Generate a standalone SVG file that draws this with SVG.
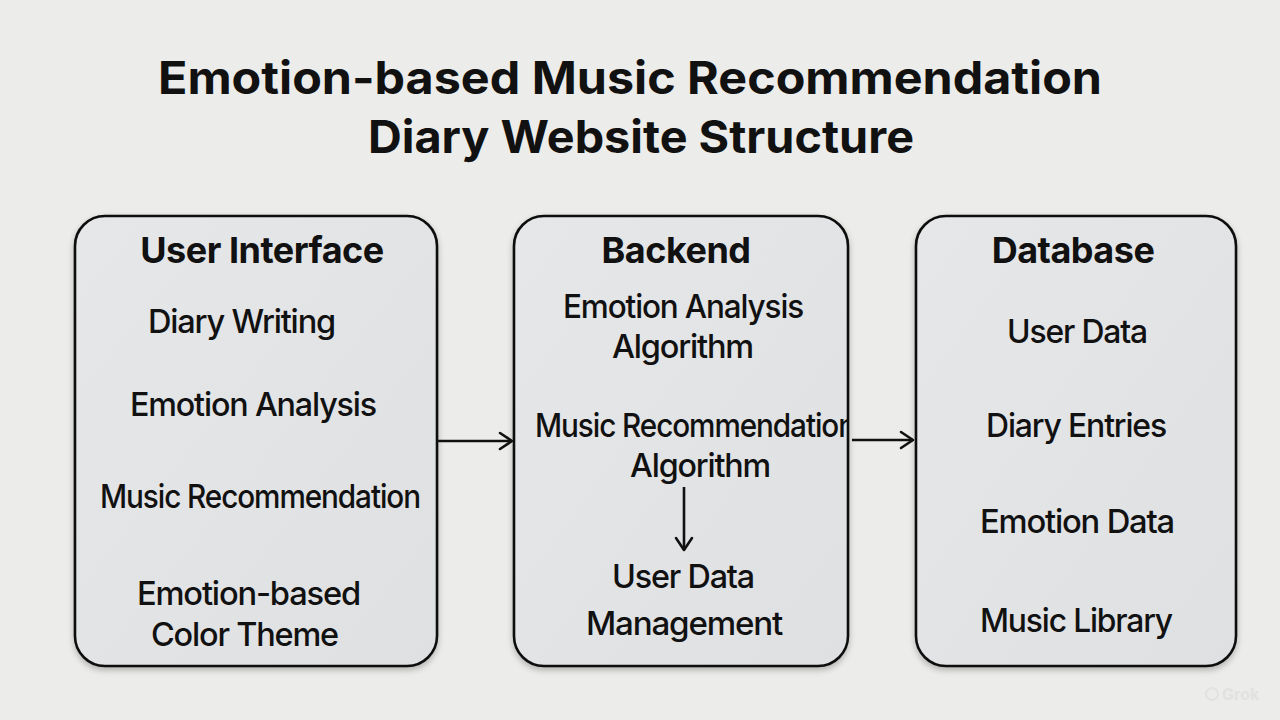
<svg xmlns="http://www.w3.org/2000/svg" width="1280" height="720" viewBox="0 0 1280 720">
<defs>
<linearGradient id="boxfill" x1="0" y1="0" x2="1" y2="1">
<stop offset="0" stop-color="#e6e7e9"/>
<stop offset="1" stop-color="#dfe0e2"/>
</linearGradient>
<filter id="shadow" x="-10%" y="-10%" width="120%" height="120%">
<feGaussianBlur in="SourceAlpha" stdDeviation="3"/>
<feOffset dx="0" dy="3"/>
<feComponentTransfer><feFuncA type="linear" slope="0.25"/></feComponentTransfer>
<feMerge><feMergeNode/><feMergeNode in="SourceGraphic"/></feMerge>
</filter>
<clipPath id="clipBackend"><rect x="514" y="216" width="334" height="450" rx="30"/></clipPath>
<marker id="chev" viewBox="0 0 20 20" refX="18" refY="10" markerWidth="20" markerHeight="20" markerUnits="userSpaceOnUse" orient="auto">
<path d="M6,2 L18,10 L6,18" fill="none" stroke="#111" stroke-width="2.6" stroke-linecap="round" stroke-linejoin="round"/>
</marker>
<style>
.title{font-family:Inter,"Liberation Sans",sans-serif;font-weight:700;font-size:45px;fill:#111;}
.box{fill:url(#boxfill);stroke:#111;stroke-width:2.6;}
.head{font-family:Inter,"Liberation Sans",sans-serif;font-weight:700;font-size:36px;fill:#111;text-anchor:middle;letter-spacing:-0.5px;}
.item{font-family:Inter,"Liberation Sans",sans-serif;font-weight:500;font-size:33px;fill:#111;letter-spacing:-1.2px;}
.conn{fill:none;stroke:#111;stroke-width:2.6;}
</style>
</defs>
<rect width="1280" height="720" fill="#ececea"/>
<g id="title">
<text class="title" x="158" y="94" textLength="944" lengthAdjust="spacingAndGlyphs">Emotion-based Music Recommendation</text>
<text class="title" x="368" y="153" textLength="546" lengthAdjust="spacingAndGlyphs">Diary Website Structure</text>
</g>
<g id="user-interface">
<rect class="box" x="75" y="216" width="362" height="450" rx="30" filter="url(#shadow)"/>
<text class="head" x="262" y="263">User Interface</text>
<text class="item" x="148" y="333" textLength="187" lengthAdjust="spacingAndGlyphs">Diary Writing</text>
<text class="item" x="130" y="416" textLength="246" lengthAdjust="spacingAndGlyphs">Emotion Analysis</text>
<text class="item" x="100" y="508" textLength="320" lengthAdjust="spacingAndGlyphs">Music Recommendation</text>
<text class="item" x="137" y="605" textLength="223" lengthAdjust="spacingAndGlyphs">Emotion-based</text>
<text class="item" x="151" y="646" textLength="187" lengthAdjust="spacingAndGlyphs">Color Theme</text>
</g>
<g id="backend">
<rect class="box" x="514" y="216" width="334" height="450" rx="30" filter="url(#shadow)"/>
<text class="head" x="676" y="263">Backend</text>
<text class="item" x="563" y="318" textLength="240" lengthAdjust="spacingAndGlyphs">Emotion Analysis</text>
<text class="item" x="612" y="358" textLength="141" lengthAdjust="spacingAndGlyphs">Algorithm</text>
<g clip-path="url(#clipBackend)">
<text class="item" x="535" y="437" textLength="320" lengthAdjust="spacingAndGlyphs">Music Recommendation</text>
</g>
<text class="item" x="630" y="477" textLength="140" lengthAdjust="spacingAndGlyphs">Algorithm</text>
<text class="item" x="612" y="588" textLength="142" lengthAdjust="spacingAndGlyphs">User Data</text>
<text class="item" x="586" y="635" textLength="196" lengthAdjust="spacingAndGlyphs">Management</text>
</g>
<g id="database">
<rect class="box" x="916" y="216" width="320" height="450" rx="30" filter="url(#shadow)"/>
<text class="head" x="1073" y="263">Database</text>
<text class="item" x="1007" y="343" textLength="140" lengthAdjust="spacingAndGlyphs">User Data</text>
<text class="item" x="986" y="437" textLength="180" lengthAdjust="spacingAndGlyphs">Diary Entries</text>
<text class="item" x="980" y="533" textLength="194" lengthAdjust="spacingAndGlyphs">Emotion Data</text>
<text class="item" x="980" y="632" textLength="192" lengthAdjust="spacingAndGlyphs">Music Library</text>
</g>
<g id="connectors">
<line class="conn" x1="437" y1="441" x2="512" y2="441" marker-end="url(#chev)"/>
<line class="conn" x1="852" y1="440" x2="913" y2="440" marker-end="url(#chev)"/>
<line class="conn" x1="684" y1="487" x2="684" y2="550" marker-end="url(#chev)"/>
</g>
<g id="watermark">
<text x="1222" y="700" font-family="Inter,'Liberation Sans',sans-serif" font-size="16" font-weight="700" fill="#e2e2e0">Grok</text>
<circle cx="1212" cy="694" r="6" fill="none" stroke="#e2e2e0" stroke-width="2"/>
</g>
</svg>
